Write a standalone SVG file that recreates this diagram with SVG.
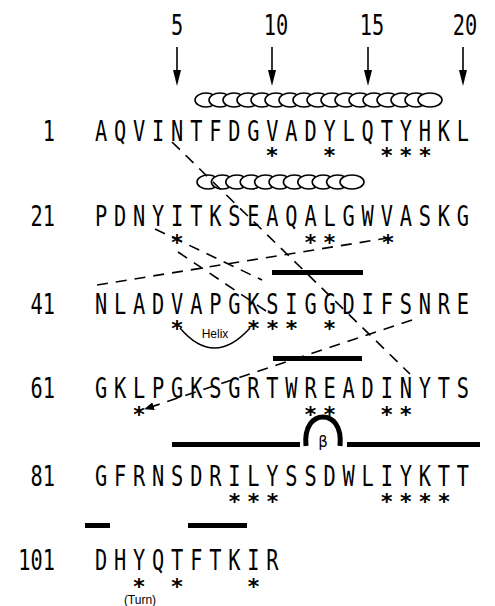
<svg xmlns="http://www.w3.org/2000/svg" width="495" height="606" viewBox="0 0 495 606">
<style>
.seq{font-family:"DejaVu Sans Mono","Liberation Mono",monospace;font-size:29px;fill:#000;text-anchor:middle}
.lab{font-family:"DejaVu Sans Mono","Liberation Mono",monospace;font-size:29px;fill:#000;text-anchor:end}
.num{font-family:"DejaVu Sans Mono","Liberation Mono",monospace;font-size:29px;fill:#000;text-anchor:middle}
.star{font-family:"DejaVu Sans","Liberation Sans",sans-serif;font-size:22px;font-weight:bold;fill:#000;text-anchor:middle}
.small{font-family:"Liberation Sans","Arial",sans-serif;font-size:12px;fill:#000;text-anchor:middle}
.dash{fill:none;stroke:#000;stroke-width:1.6;stroke-dasharray:11 8}
.hel{fill:#fff;stroke:#000;stroke-width:1.6}
.bar{fill:#000}
</style>
<defs>
<marker id="ah" markerWidth="10" markerHeight="8" refX="9" refY="4" orient="auto" markerUnits="userSpaceOnUse">
<path d="M0,0 L10,4 L0,8 z" fill="#000"/>
</marker>
<g id="arw"><line x1="0" y1="47" x2="0" y2="72" stroke="#000" stroke-width="1.6"/><path d="M-4,70 L4,70 L0,86 z" fill="#000"/></g>
</defs>

<g id="position-marks">
<text class="num" transform="translate(177,35) scale(0.7,1)">5</text>
<text class="num" transform="translate(276,35) scale(0.7,1)">10</text>
<text class="num" transform="translate(372,35) scale(0.7,1)">15</text>
<text class="num" transform="translate(465,35) scale(0.7,1)">20</text>
<use href="#arw" x="177"/>
<use href="#arw" x="272"/>
<use href="#arw" x="368"/>
<use href="#arw" x="463"/>
</g>

<g id="helix1">
<ellipse class="hel" cx="206" cy="100" rx="11" ry="7"/>
<ellipse class="hel" cx="220" cy="100" rx="11" ry="7"/>
<ellipse class="hel" cx="234" cy="100" rx="11" ry="7"/>
<ellipse class="hel" cx="248" cy="100" rx="11" ry="7"/>
<ellipse class="hel" cx="262" cy="100" rx="11" ry="7"/>
<ellipse class="hel" cx="276" cy="100" rx="11" ry="7"/>
<ellipse class="hel" cx="290" cy="100" rx="11" ry="7"/>
<ellipse class="hel" cx="304" cy="100" rx="11" ry="7"/>
<ellipse class="hel" cx="318" cy="100" rx="11" ry="7"/>
<ellipse class="hel" cx="332" cy="100" rx="11" ry="7"/>
<ellipse class="hel" cx="346" cy="100" rx="11" ry="7"/>
<ellipse class="hel" cx="360" cy="100" rx="11" ry="7"/>
<ellipse class="hel" cx="374" cy="100" rx="11" ry="7"/>
<ellipse class="hel" cx="388" cy="100" rx="11" ry="7"/>
<ellipse class="hel" cx="402" cy="100" rx="11" ry="7"/>
<ellipse class="hel" cx="416" cy="100" rx="11" ry="7"/>
<ellipse class="hel" cx="430" cy="100" rx="12" ry="7"/>
</g>

<g id="helix2">
<ellipse class="hel" cx="208" cy="182" rx="11" ry="7"/>
<ellipse class="hel" cx="222.4" cy="182" rx="11" ry="7"/>
<ellipse class="hel" cx="236.8" cy="182" rx="11" ry="7"/>
<ellipse class="hel" cx="251.2" cy="182" rx="11" ry="7"/>
<ellipse class="hel" cx="265.6" cy="182" rx="11" ry="7"/>
<ellipse class="hel" cx="280" cy="182" rx="11" ry="7"/>
<ellipse class="hel" cx="294.4" cy="182" rx="11" ry="7"/>
<ellipse class="hel" cx="308.8" cy="182" rx="11" ry="7"/>
<ellipse class="hel" cx="323.2" cy="182" rx="11" ry="7"/>
<ellipse class="hel" cx="337.6" cy="182" rx="11" ry="7"/>
<ellipse class="hel" cx="352" cy="182" rx="12" ry="7"/>
</g>

<g id="strands">
<rect class="bar" x="272" y="270" width="91" height="5"/>
<rect class="bar" x="273" y="356" width="89" height="5"/>
<rect class="bar" x="172" y="442" width="128" height="5"/>
<rect class="bar" x="347" y="442" width="133" height="5"/>
<path d="M306,446 C304,425 314,417 323,417 C332,417 342,425 340,446" fill="none" stroke="#000" stroke-width="5"/>
<text x="323" y="447" font-family="DejaVu Sans,sans-serif" font-size="15" text-anchor="middle">β</text>
<rect class="bar" x="85" y="523" width="25" height="5"/>
<rect class="bar" x="188" y="523" width="59" height="5"/>
</g>

<g id="connectors">
<path class="dash" d="M172,142 L410,374"/>
<path class="dash" d="M97,285 L388,238"/>
<path class="dash" d="M155,229 L262,280"/>
<path class="dash" d="M178,252 L266,311"/>
<path class="dash" d="M412,320 L145,409" marker-end="url(#ah)"/>
</g>

<g id="row1">
<text class="lab" transform="translate(55,141) scale(0.7,1)">1</text>
<text class="seq" transform="translate(0,141) scale(0.7,1)" x="144.3 171.5 198.7 225.9 253.1 280.4 307.6 334.8 362 389.2 416.4 443.7 470.9 498.1 525.3 552.5 579.7 606.9 634.2 661.4">AQVINTFDGVADYLQTYHKL</text>
<text class="star" y="163" x="272 329.6 386.8 405.8 424.9">*****</text>
</g>

<g id="row21">
<text class="lab" transform="translate(55,226) scale(0.7,1)">21</text>
<text class="seq" transform="translate(0,226) scale(0.7,1)" x="144.3 171.5 198.7 225.9 253.1 280.4 307.6 334.8 362 389.2 416.4 443.7 470.9 498.1 525.3 552.5 579.7 606.9 634.2 661.4">PDNYITKSEAQALGWVASKG</text>
<text class="star" y="250" x="177 310.5 329.6 388">****</text>
</g>

<g id="row41">
<text class="lab" transform="translate(55,314) scale(0.7,1)">41</text>
<text class="seq" transform="translate(0,314) scale(0.7,1)" x="144.3 171.5 198.7 225.9 253.1 280.4 307.6 334.8 362 389.2 416.4 443.7 470.9 498.1 525.3 552.5 579.7 606.9 634.2 661.4">NLADVAPGKSIGGDIFSNRE</text>
<text class="star" y="336" x="177 253.4 272.5 291.5 329.6">*****</text>
<path d="M180,328 Q214,368 250,328" fill="none" stroke="#000" stroke-width="1.5"/>
<text class="small" x="215" y="338">Helix</text>
</g>

<g id="row61">
<text class="lab" transform="translate(55,398) scale(0.7,1)">61</text>
<text class="seq" transform="translate(0,398) scale(0.7,1)" x="144.3 171.5 198.7 225.9 253.1 280.4 307.6 334.8 362 389.2 416.4 443.7 470.9 498.1 525.3 552.5 579.7 606.9 634.2 661.4">GKLPGKSGRTWREADINYTS</text>
<text class="star" y="422" x="139 310.5 329.6 386.8 405.8">*****</text>
</g>

<g id="row81">
<text class="lab" transform="translate(55,486) scale(0.7,1)">81</text>
<text class="seq" transform="translate(0,486) scale(0.7,1)" x="144.3 171.5 198.7 225.9 253.1 280.4 307.6 334.8 362 389.2 416.4 443.7 470.9 498.1 525.3 552.5 579.7 606.9 634.2 661.4">GFRNSDRILYSSDWLIYKTT</text>
<text class="star" y="509" x="234.4 253.4 272.5 386.8 405.8 424.9 443.9">*******</text>
</g>

<g id="row101">
<text class="lab" transform="translate(55,570) scale(0.7,1)">101</text>
<text class="seq" transform="translate(0,570) scale(0.7,1)" x="144.3 171.5 198.7 225.9 253.1 280.4 307.6 334.8 362 389.2">DHYQTFTKIR</text>
<text class="star" y="594" x="139 177 253.4">***</text>
<text class="small" x="140" y="604">(Turn)</text>
</g>
</svg>
